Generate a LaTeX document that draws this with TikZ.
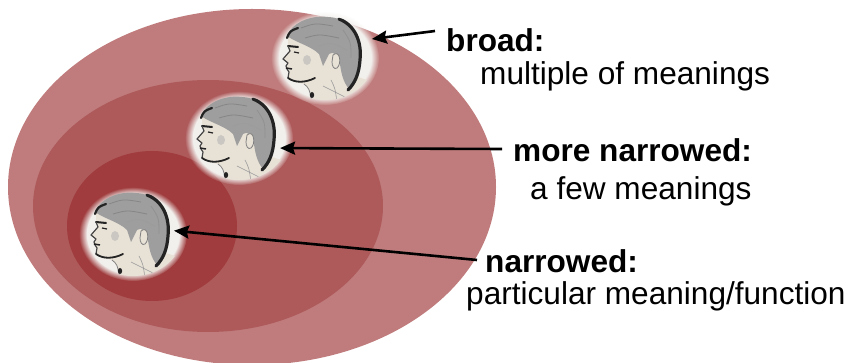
\documentclass[tikz,border=0pt]{standalone}
\usepackage{fontspec}
\setmainfont{Liberation Sans}
\usetikzlibrary{arrows.meta,shapes.geometric,fadings}

\definecolor{outerred}{RGB}{192,124,124}
\definecolor{midred}{RGB}{174,90,91}
\definecolor{innerred}{RGB}{160,60,62}
\definecolor{disc}{RGB}{242,240,237}
\definecolor{skin}{RGB}{232,225,214}
\definecolor{hair}{RGB}{158,158,158}
\definecolor{hairdark}{RGB}{35,35,35}

\tikzset{
  txt/.style={anchor=base west, inner sep=0pt, font=\fontsize{31.6}{38}\selectfont},
  txtbold/.style={txt, font=\fontsize{31.6}{38}\selectfont\bfseries},
  pointer/.style={line width=2.6pt, -{Stealth[length=15pt,width=13pt,inset=2pt]}},
  headspot/.style={ellipse, minimum width=98pt, minimum height=84pt, inner sep=0pt, outer sep=0pt},
  manhead/.pic={
    % soft-edged backing disc
    \fill[disc, path fading=circle with fuzzy edge 15 percent] (0,0) ellipse [x radius=54pt, y radius=47pt];
    \fill[disc] (0,0) ellipse [x radius=46pt, y radius=39pt];
    \begin{scope}
      \clip (0,0) ellipse [x radius=49pt, y radius=42pt];
      % face, neck and shoulder
      \fill[skin] (-37,-24) -- (-37,-12) -- (-35,-7) -- (-42,1) -- (-37,5) -- (-39,8)
        -- (-38,11) -- (-36,14) -- (-37,20) -- (-31,24) -- (-21,26)
        .. controls (-16,30) .. (-12,46) -- (48,46) -- (48,24) -- (30,18) -- (30,-24) -- cycle;
      % hair
      \fill[hair] (-38,-22) .. controls (-32,-37) and (-12,-43) .. (3,-41)
        .. controls (22,-40) and (33,-28) .. (34,-12)
        .. controls (35,4) and (32,20) .. (24,31)
        .. controls (18,24) and (16,14) .. (15,6)
        .. controls (14,-4) and (8,-7) .. (4,-4)
        -- (-2,8) -- (-6,-4)
        .. controls (-14,-12) and (-28,-15) .. cycle;
      % hair strands
      \draw[hairdark!55, line width=0.8pt] (-24,-30) .. controls (-10,-35) .. (8,-32);
      \draw[hairdark!55, line width=0.8pt] (-20,-20) .. controls (-6,-24) .. (14,-20);
      \draw[hairdark!45, line width=0.7pt] (-6,-12) .. controls (6,-16) .. (22,-8);
      \draw[hairdark!50, line width=0.8pt] (18,-28) .. controls (26,-16) .. (26,0);
      % ear
      \filldraw[fill=skin, draw=gray, line width=0.8pt] (8,-3) .. controls (15,-9) and (17,6) .. (12,10)
        .. controls (9,12) and (7,8) .. (7,4) -- cycle;
      % back of the head
      \draw[hairdark, line width=3.2pt, line cap=round] (14,-39) .. controls (30,-33) and (37,-16) .. (35,2)
        .. controls (34,16) and (30,25) .. (23,32);
      % front hairline, brow and eye
      \draw[hairdark, line width=2.2pt, line cap=round] (-38,-20) .. controls (-35,-27) .. (-27,-30);
      \draw[hairdark, line width=2pt, line cap=round] (-37,-12) -- (-27,-11);
      \draw[hairdark, line width=1.2pt] (-31,-6) -- (-26,-5);
      % profile line
      \draw[hairdark!85, line width=1.2pt, line join=round] (-37,-12) -- (-35,-7) -- (-42,1) -- (-37,5)
        -- (-39,8) -- (-38,11) -- (-36,14) -- (-37,20);
      \draw[hairdark, line width=1.5pt] (-39,10) -- (-33,11);
      % jaw and neck
      \draw[hairdark, line width=1.8pt, line cap=round] (-37,20) .. controls (-30,25) and (-20,25) .. (-10,20);
      \draw[gray, line width=0.8pt] (-21,26) .. controls (-16,30) .. (-13,44);
      \draw[gray!80, line width=0.6pt] (-2,28) .. controls (8,33) .. (22,40);
      \draw[gray!80, line width=0.6pt] (6,22) .. controls (10,30) .. (12,44);
      % cheek shadow and collar
      \fill[gray!60, opacity=0.55] (-18,2) ellipse [x radius=4pt, y radius=5pt];
      \fill[hairdark] (-13,37) ellipse [x radius=2.2pt, y radius=3pt];
    \end{scope}
  }
}

\begin{document}
\begin{tikzpicture}[x=1pt,y=-1pt]
  \useasboundingbox (0,0) rectangle (857,363);
  \begin{scope}
    \clip (0,0) rectangle (857,363);
    % nested scopes of meaning
    \fill[outerred] (252,187) ellipse [x radius=244pt, y radius=178pt];
    \fill[midred]   (208,206) ellipse [x radius=175pt, y radius=126pt];
    \fill[innerred] (152,226) ellipse [x radius=85pt,  y radius=75pt];
  \end{scope}

  % the three portraits
  \node[headspot] (h1) at (325,58)  {};
  \node[headspot] (h2) at (239,138) {};
  \node[headspot] (h3) at (133,234) {};
  \pic at (h1.center) {manhead};
  \pic at (h2.center) {manhead};
  \pic at (h3.center) {manhead};

  % labels
  \node[txtbold] (b1) at (446,52)  {broad:};
  \node[txt]     (d1) at (480,85)  {multiple of meanings};
  \node[txtbold] (b2) at (513,162) {more narrowed:};
  \node[txt]     (d2) at (530,200) {a few meanings};
  \node[txtbold] (b3) at (485,273) {narrowed:};
  \node[txt]     (d3) at (466,305) {particular meaning/function};

  % pointers from the labels to the portraits
  \coordinate (c1) at (435,31);
  \coordinate (c2) at (502,149);
  \coordinate (c3) at (477,260);
  \draw[pointer, shorten >=3pt]    (c1) -- (h1.23);
  \draw[pointer, shorten >=-6.5pt] (c2) -- (h2.-12);
  \draw[pointer, shorten >=-8pt]   (c3) -- (h3.3);
\end{tikzpicture}
\end{document}
